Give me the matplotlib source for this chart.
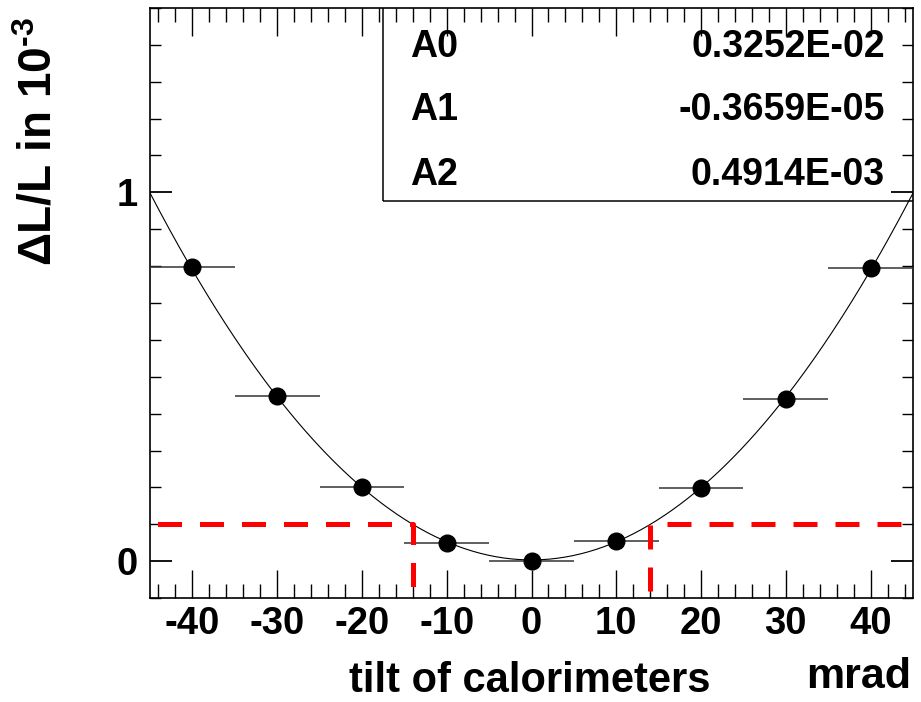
import numpy as np
import matplotlib.pyplot as plt
from matplotlib.ticker import FixedLocator, MultipleLocator
from matplotlib.patches import Rectangle

plt.rcParams['font.family'] = 'Liberation Sans'
plt.rcParams['font.weight'] = 'bold'
plt.rcParams['mathtext.fontset'] = 'custom'
plt.rcParams['mathtext.bf'] = 'Liberation Sans:bold'
plt.rcParams['mathtext.rm'] = 'Liberation Sans:bold'
plt.rcParams['mathtext.sf'] = 'Liberation Sans'
plt.rcParams['mathtext.default'] = 'bf'
plt.rcParams['axes.unicode_minus'] = False

# data (mrad, 10^-3)
tilt = [-40, -30, -20, -10, 0, 10, 20, 30, 40]
dl = [0.798, 0.448, 0.201, 0.050, 0.0, 0.054, 0.197, 0.439, 0.795]
tilt_err = [5, 5, 5, 5, 5, 5, 5, 5, 5]

# fit parameters shown in the box
par_names = ['A0', 'A1', 'A2']
par_vals = [0.3252e-2, -0.3659e-5, 0.4914e-3]
par_text = ['0.3252E-02', '-0.3659E-05', '0.4914E-03']

cut_y = 0.1
cut_x = [-14, 14]

xticks = [-40, -30, -20, -10, 0, 10, 20, 30, 40]
yticks = [0, 1]

fig = plt.figure(figsize=(9.21, 7.02), dpi=100)
ax = fig.add_axes([150/921, 1 - 598/702, 763/921, 590/702])
ax.set_xlim(-45, 45)
ax.set_ylim(-0.1, 1.5)

# fit curve
xf = np.linspace(-45, 45, 400)
yf = par_vals[0] + par_vals[1]*xf + par_vals[2]*xf**2
ax.plot(xf, yf, color='black', lw=0.8, zorder=2)

# points
ax.errorbar(tilt, dl, xerr=tilt_err, fmt='o', color='black', ms=12,
            ecolor='#333333', elinewidth=1.1, capsize=0, zorder=3)

# red dashed cut lines
ax.plot([-45, cut_x[0], cut_x[0]], [cut_y, cut_y, -0.08], color='red',
        lw=3.6, linestyle=(-1.5, (4.8, 3.6)), solid_capstyle='butt', zorder=4)
ax.plot([cut_x[1], cut_x[1], 45], [-0.08, cut_y, cut_y], color='red',
        lw=3.6, dashes=(4.8, 3.6), solid_capstyle='butt', zorder=4)

# ticks
ax.xaxis.set_major_locator(FixedLocator(xticks))
ax.xaxis.set_minor_locator(MultipleLocator(2))
ax.yaxis.set_major_locator(FixedLocator(yticks))
ax.yaxis.set_minor_locator(MultipleLocator(0.1))
ax.tick_params(axis='x', which='major', direction='in', length=20, width=1,
               top=True, bottom=True, labelsize=27.5, pad=6)
ax.tick_params(axis='x', which='minor', direction='in', length=10, width=1,
               top=True, bottom=True)
ax.tick_params(axis='y', which='major', direction='in', length=16, width=1.3,
               left=True, right=True, labelsize=27.5, pad=9)
ax.tick_params(axis='y', which='minor', direction='in', length=8, width=1,
               left=True, right=True)
ax.set_xticklabels([str(v) for v in xticks], fontweight='bold')
ax.set_yticklabels([str(v) for v in yticks], fontweight='bold')
for s in ax.spines.values():
    s.set_linewidth(1.2)

# parameter box
ax.add_patch(Rectangle((0.3054, 0.673), 0.8, 0.5, transform=ax.transAxes,
                       fill=False, lw=1.1, zorder=5, clip_on=True))
rows = [0.917, 0.810, 0.700]
for name, txt, yy in zip(par_names, par_text, rows):
    ax.text(0.341, yy, name, transform=ax.transAxes, fontsize=27,
            fontweight='bold', ha='left', va='baseline')
    ax.text(0.963, yy, txt, transform=ax.transAxes, fontsize=27,
            fontweight='bold', ha='right', va='baseline')

# axis titles
fig.text(530/921, 1 - 692/702, 'tilt of calorimeters', fontsize=30,
         fontweight='bold', ha='center', va='baseline')
fig.text(911/921, 1 - 688/702, 'mrad', fontsize=31, fontweight='bold',
         ha='right', va='baseline')
fig.text(40/921, 1 - 142/702, r'$\mathsf{Δ}$L/L in 10$^{\text{-3}}$',
         fontsize=33, fontweight='bold', rotation=90, ha='center', va='center')

fig.savefig('out.png', dpi=100)
